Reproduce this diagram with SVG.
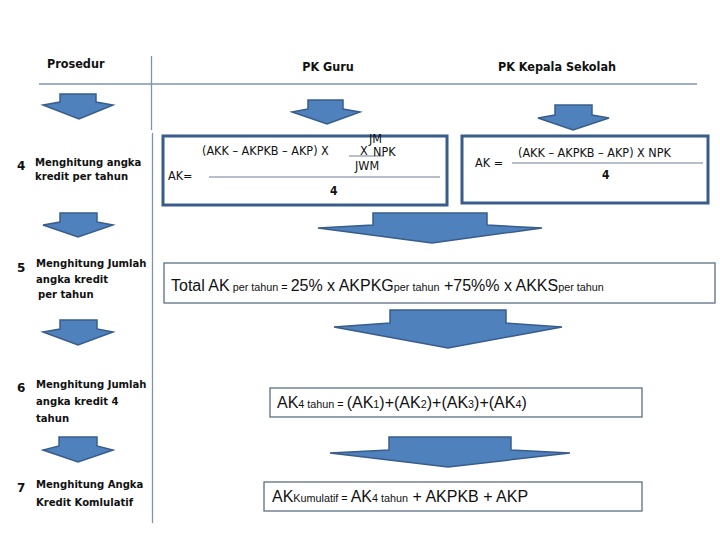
<svg xmlns="http://www.w3.org/2000/svg" width="720" height="540" viewBox="0 0 720 540">
<style>
.hdr{font-family:"DejaVu Sans Condensed","DejaVu Sans",sans-serif;font-weight:bold;font-size:12.5px;fill:#111}
.step{font-family:"Liberation Sans Narrow","DejaVu Sans Condensed","Liberation Sans",sans-serif;font-weight:bold;font-size:11.2px;fill:#111}
.num{font-family:"DejaVu Sans",sans-serif;font-weight:bold;font-size:12px;fill:#111}
.f1{font-family:"DejaVu Sans Condensed","DejaVu Sans",sans-serif;font-size:12.5px;fill:#111}
.f1b{font-family:"DejaVu Sans Condensed","DejaVu Sans",sans-serif;font-weight:bold;font-size:12px;fill:#111}
.f2{font-family:"Liberation Sans",Arial,sans-serif;font-size:16px;fill:#111}
.sub{font-size:10.8px}
.arrow{fill:#4F81BD;stroke:#385D8A;stroke-width:1.5;stroke-linejoin:miter}
.boxA{fill:#fff;stroke:#385D8A;stroke-width:3}
.boxB{fill:#fff;stroke:#5d6f85;stroke-width:1.3}
.rule{stroke:#7f93ab;stroke-width:1.3;fill:none}
.frac{stroke:#6d7f96;stroke-width:1;fill:none}
</style>

<g id="grid">
<line class="rule" x1="39" y1="84" x2="697" y2="84"/>
<line class="rule" x1="151.5" y1="56" x2="151.5" y2="130"/>
<line class="rule" x1="152.5" y1="133" x2="152.5" y2="523"/>
</g>

<g id="headers">
<text class="hdr" x="47" y="68">Prosedur</text>
<text class="hdr" x="328" y="71" text-anchor="middle">PK Guru</text>
<text class="hdr" x="557" y="71" text-anchor="middle">PK Kepala Sekolah</text>
</g>

<g id="connectors">
<polygon class="arrow" points="60,94 96,94 96,102 113,105 79,119 43,105 60,102"/>
<polygon class="arrow" points="60,213 97,213 97,222 113,225 78,237 43,225 60,222"/>
<polygon class="arrow" points="60,320 97,320 97,329 113,332 78,345 43,332 60,329"/>
<polygon class="arrow" points="59,437 97,437 97,446 113,450 78,462 43,450 59,446"/>
<polygon class="arrow" points="308,100 343,100 343,109 360,112 327,124 292,112 308,109"/>
<polygon class="arrow" points="555,105 592,105 592,115 609,118 573,130 538,118 555,115"/>
<polygon class="arrow" points="373,213 487,213 487,225 542,228 432,243 318,228 373,225"/>
<polygon class="arrow" points="390,310 506,310 506,323 562,327 448,348 334,327 390,323"/>
<polygon class="arrow" points="389,437 511,437 511,450 570,453 448,467 330,453 389,450"/>
</g>

<g id="steps">
<text class="num" x="17" y="170">4</text>
<text class="step" x="35" y="166">Menghitung angka</text>
<text class="step" x="35" y="180">kredit per tahun</text>
<text class="num" x="17" y="272">5</text>
<text class="step" x="36" y="267">Menghitung Jumlah</text>
<text class="step" x="36" y="283">angka kredit</text>
<text class="step" x="38" y="298">per tahun</text>
<text class="num" x="17" y="392">6</text>
<text class="step" x="36" y="388">Menghitung Jumlah</text>
<text class="step" x="36" y="405">angka kredit 4</text>
<text class="step" x="36" y="422">tahun</text>
<text class="num" x="17" y="492">7</text>
<text class="step" x="36" y="488">Menghitung Angka</text>
<text class="step" x="36" y="506">Kredit Komlulatif</text>
</g>

<g id="box-guru">
<rect class="boxA" x="163" y="136" width="284" height="69"/>
<text class="f1" x="202" y="155">(AKK – AKPKB – AKP) X</text>
<line class="frac" x1="349" y1="156" x2="384" y2="156"/>
<text class="f1" x="360" y="155">X</text>
<text class="f1" x="369" y="143" font-size="7.5">JM</text>
<text class="f1" x="373" y="156">NPK</text>
<text class="f1" x="355" y="170">JWM</text>
<text class="f1" x="168" y="180">AK=</text>
<line class="frac" x1="209" y1="177" x2="440" y2="177"/>
<text class="f1b" x="330" y="195">4</text>
</g>

<g id="box-kepala">
<rect class="boxA" x="462" y="136" width="246" height="67"/>
<text class="f1" x="475" y="167">AK =</text>
<text class="f1" x="518" y="157">(AKK – AKPKB – AKP) X NPK</text>
<line class="frac" x1="512" y1="163" x2="703" y2="163"/>
<text class="f1b" x="602" y="179">4</text>
</g>

<g id="box-total">
<rect class="boxB" x="164" y="263" width="551" height="40"/>
<text class="f2" x="171" y="291">Total AK<tspan class="sub"> per tahun = </tspan> 25% x AKPKG<tspan class="sub">per tahun</tspan> +75%% x AKKS<tspan class="sub">per tahun</tspan></text>
</g>

<g id="box-4tahun">
<rect class="boxB" x="270" y="388" width="372" height="29"/>
<text class="f2" x="277" y="408">AK<tspan class="sub">4 tahun = </tspan> (AK<tspan class="sub">1</tspan>)+(AK<tspan class="sub">2</tspan>)+(AK<tspan class="sub">3</tspan>)+(AK<tspan class="sub">4</tspan>)</text>
</g>

<g id="box-kumulatif">
<rect class="boxB" x="264" y="482" width="378" height="29"/>
<text class="f2" x="272" y="502">AK<tspan class="sub">Kumulatif = </tspan> AK<tspan class="sub">4 tahun</tspan> + AKPKB + AKP</text>
</g>
</svg>
